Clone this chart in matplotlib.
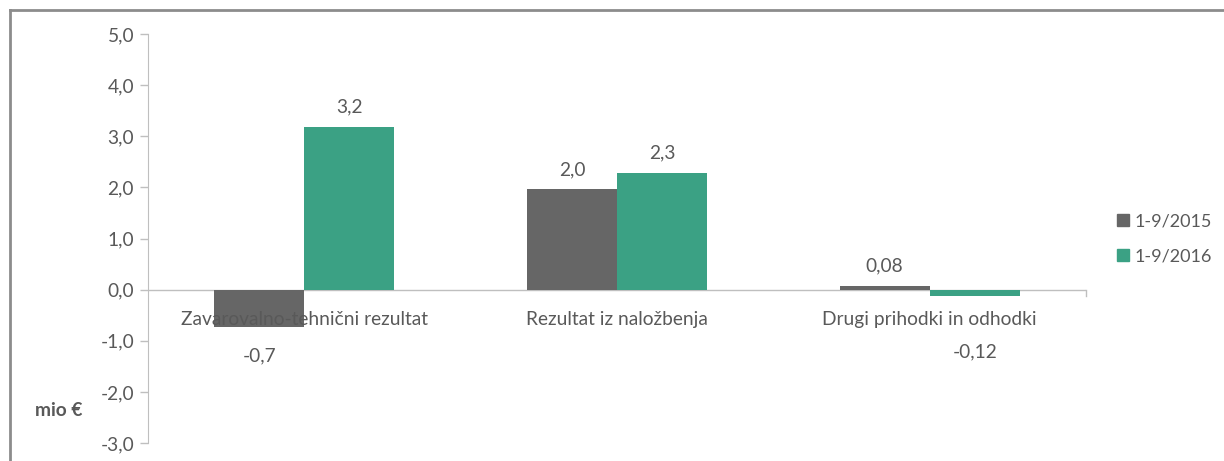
import matplotlib
matplotlib.use("Agg")
import matplotlib.pyplot as plt
import numpy as np
from matplotlib.patches import Rectangle
from matplotlib.lines import Line2D

categories = ["Zavarovalno-tehnični rezultat", "Rezultat iz naložbenja", "Drugi prihodki in odhodki"]
series_names = ["1-9/2015", "1-9/2016"]
values_2015 = [-0.74, 1.96, 0.08]
values_2016 = [3.18, 2.28, -0.13]
labels_2015 = ["-0,7", "2,0", "0,08"]
labels_2016 = ["3,2", "2,3", "-0,12"]
yticks = [-3, -2, -1, 0, 1, 2, 3, 4, 5]
ytick_labels = ["-3,0", "-2,0", "-1,0", "0,0", "1,0", "2,0", "3,0", "4,0", "5,0"]

plt.rcParams['font.family'] = ['Lato', 'DejaVu Sans']
TXT = "#595959"
C1 = "#666666"
C2 = "#3BA184"
AX = "#BFBFBF"
FS = 13.8

W, H = 1224, 461
fig = plt.figure(figsize=(W/100, H/100), dpi=100)
ax = fig.add_axes([148/W, 1-443/H, (1086-148)/W, (443-34)/H])

x = np.arange(len(categories))
bw = 0.288
ax.bar(x - bw/2, values_2015, bw, color=C1, label=series_names[0], zorder=3)
ax.bar(x + bw/2, values_2016, bw, color=C2, label=series_names[1], zorder=3)

ax.set_xlim(-0.5, 2.5)
ax.set_ylim(-3, 5)
ax.set_yticks(yticks)
ax.set_yticklabels(ytick_labels, color=TXT, fontsize=FS)
ax.tick_params(axis='y', length=6, color=AX, width=1, pad=4)
ax.set_xticks([])
for s in ["top", "right", "bottom"]:
    ax.spines[s].set_visible(False)
ax.spines["left"].set_color(AX)
ax.axhline(0, color=AX, lw=1, zorder=2)
ax.plot([2.5, 2.5], [0, -0.12], color=AX, lw=1, clip_on=False)

for i, c in enumerate(categories):
    ax.text(i, -0.58, c, ha='center', va='center', color=TXT, fontsize=FS, zorder=4)

for i, (v, l) in enumerate(zip(values_2015, labels_2015)):
    off = 0.38 if v >= 0 else -0.55
    ax.text(i - bw/2, v + off, l, ha='center', va='center', color=TXT, fontsize=FS)
for i, (v, l) in enumerate(zip(values_2016, labels_2016)):
    yy = v + 0.4 if v >= 0 else -1.22
    ax.text(i + bw/2, yy, l, ha='center', va='center', color=TXT, fontsize=FS)

fig.text(35/W, 1-410/H, "mio €", fontweight='bold', color=TXT, fontsize=FS, ha='left', va='center')

leg = fig.legend(handles=[Rectangle((0, 0), 1, 1, color=C1), Rectangle((0, 0), 1, 1, color=C2)],
                 labels=series_names, loc='center left', bbox_to_anchor=(1117/W, 1-239/H),
                 frameon=False, fontsize=13, handlelength=0.65, handleheight=0.65,
                 handletextpad=0.3, labelspacing=1.05, labelcolor=TXT, borderpad=0, borderaxespad=0)

bc = "#8C8C8C"
fig.add_artist(Line2D([10/W, 10/W], [0, 1-10.5/H], transform=fig.transFigure, color=bc, lw=2))
fig.add_artist(Line2D([10/W, 1], [1-10.5/H, 1-10.5/H], transform=fig.transFigure, color=bc, lw=2))

fig.savefig("out.png", dpi=100)
